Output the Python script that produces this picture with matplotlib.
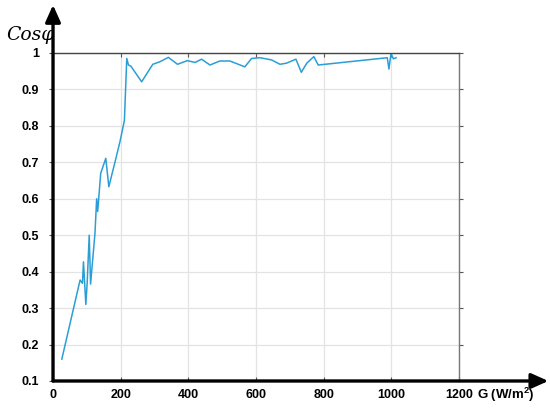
"""
Power factor vs irradiance plot
"""

import matplotlib.pyplot as plt
from matplotlib.patches import FancyArrowPatch

# irradiance G (W/m2) and power factor
g_values = [26, 80, 87, 90, 97, 101, 107, 111, 124, 129, 132, 141, 156, 165, 183,
            198, 211, 218, 223, 230, 262, 295, 316, 341, 368, 397, 420, 439, 464,
            493, 523, 567, 587, 612, 646, 671, 690, 718, 734, 750, 771, 784, 988,
            993, 999, 1006, 1014]
cos_phi = [0.16, 0.377, 0.368, 0.427, 0.31, 0.37, 0.50, 0.366, 0.505, 0.60, 0.565,
           0.67, 0.711, 0.633, 0.70, 0.757, 0.815, 0.985, 0.967, 0.964, 0.921, 0.969,
           0.976, 0.988, 0.969, 0.979, 0.974, 0.983, 0.967, 0.978, 0.978, 0.962,
           0.985, 0.987, 0.981, 0.969, 0.972, 0.983, 0.947, 0.972, 0.990, 0.967,
           0.987, 0.956, 0.999, 0.984, 0.987]

x_ticks = [0, 200, 400, 600, 800, 1000, 1200]
y_ticks = [0.1, 0.2, 0.3, 0.4, 0.5, 0.6, 0.7, 0.8, 0.9, 1]
y_tick_labels = ['0.1', '0.2', '0.3', '0.4', '0.5', '0.6', '0.7', '0.8', '0.9', '1']

plt.rcParams['font.family'] = ['Liberation Sans', 'DejaVu Sans']
plt.rcParams['mathtext.fontset'] = 'custom'
plt.rcParams['mathtext.bf'] = 'Liberation Sans:bold'
plt.rcParams['mathtext.rm'] = 'Liberation Sans:bold'

fig = plt.figure(figsize=(5.5, 4.13), dpi=100)
ax = fig.add_axes([0.0964, 0.0775, 0.7381, 0.7942])

ax.plot(g_values, cos_phi, color='#2b9ed6', linewidth=1.1)

ax.set_xlim(0, 1200)
ax.set_ylim(0.1, 1)
ax.set_xticks(x_ticks)
ax.set_yticks(y_ticks)
ax.set_yticklabels(y_tick_labels)
ax.grid(True, color='#e3e3e3', linewidth=0.9)
ax.set_axisbelow(True)

for lbl in ax.get_xticklabels() + ax.get_yticklabels():
    lbl.set_fontweight('bold')
    lbl.set_fontsize(9)
ax.tick_params(axis='x', length=0, pad=6)
ax.tick_params(axis='y', length=0, pad=7)
ax.tick_params(top=True, right=True, direction='in', length=3, color='#555555')
ax.tick_params(axis='y', which='both', right=True, direction='out', length=3)

ax.spines['left'].set_visible(False)
ax.spines['bottom'].set_visible(False)
ax.spines['top'].set_color('#444444')
ax.spines['right'].set_color('#777777')
ax.spines['top'].set_linewidth(1.0)
ax.spines['right'].set_linewidth(1.0)

# thick axis arrows
x0, y0 = 0.0964, 0.0775
for end in [(x0, 0.988), (0.997, y0)]:
    arr = FancyArrowPatch((x0, y0), end, transform=fig.transFigure,
                          arrowstyle='-|>,head_length=0.85,head_width=0.38',
                          mutation_scale=12, color='black', linewidth=2.4,
                          shrinkA=0, shrinkB=0)
    fig.patches.append(arr)

fig.text(0.012, 0.916, 'Cos\u03c6', family='DejaVu Serif', style='italic',
         fontsize=13.5, va='center', ha='left')
fig.text(0.868, 0.044, r'G (W/m$^{\mathbf{2}}$)', fontweight='bold',
         fontsize=9.5, va='center', ha='left')

fig.savefig('out.png', dpi=100)
